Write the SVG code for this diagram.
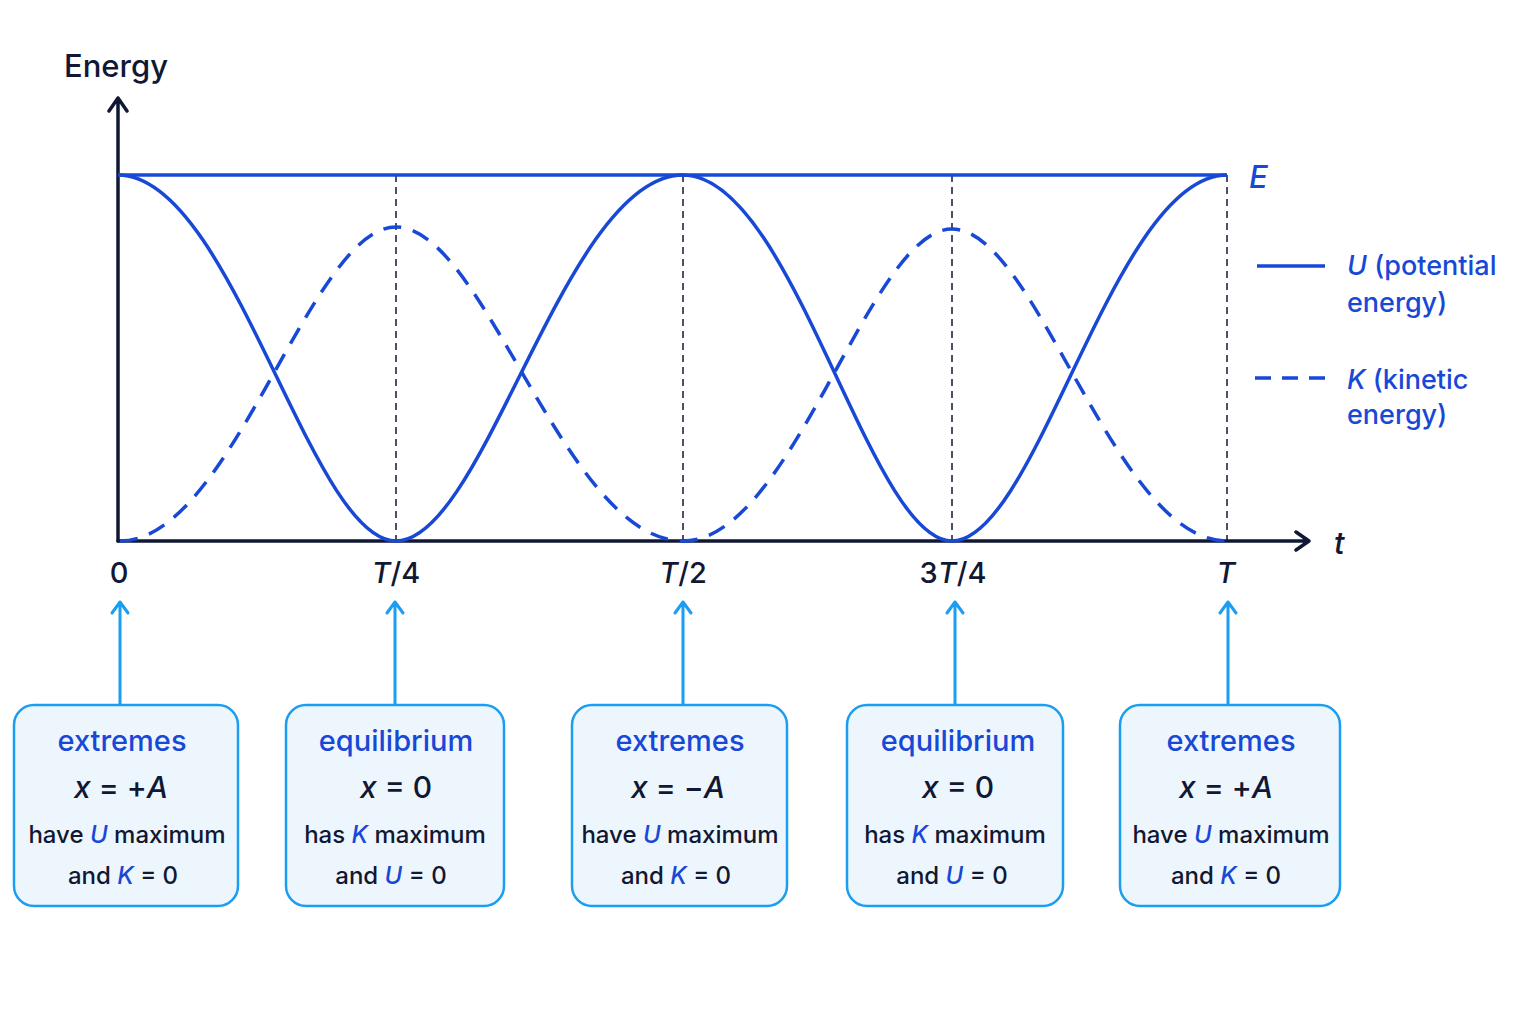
<svg xmlns="http://www.w3.org/2000/svg" width="1536" height="1024" viewBox="0 0 1536 1024">
<defs>
<style>
.ax{stroke:#111834;stroke-width:3.5;fill:none;stroke-linecap:round;stroke-linejoin:round}
.cu{stroke:#1848d6;stroke-width:3.5;fill:none}
.ck{stroke:#1848d6;stroke-width:3.5;fill:none;stroke-dasharray:18 12}
.gd{stroke:#111834;stroke-width:1.5;stroke-dasharray:7 5;fill:none}
.cn{stroke:#1a9ef2;stroke-width:3;fill:none;stroke-linecap:round;stroke-linejoin:round}
.box{fill:#eef6fd;stroke:#1a9ef2;stroke-width:2.5}
text{font-family:Inter,"Noto Sans","Liberation Sans",sans-serif;font-weight:500}
.dk{fill:#111834}
.bl{fill:#1848d6}
.it{font-style:italic}
.h{font-size:29px;fill:#1848d6;text-anchor:middle}
.eq{font-size:30px;fill:#111834;text-anchor:middle}
.ln{font-size:24px;fill:#111834;text-anchor:middle}
.tk{font-size:29px;fill:#111834;text-anchor:middle}
.lg{font-size:27px;fill:#1848d6}
</style>
</defs>
<rect width="1536" height="1024" fill="#ffffff"/>

<g id="axes">
<path class="ax" d="M118 541 V98 M109 111 L118 98 L127 111"/>
<path class="ax" d="M118 541 H1309 M1296 532 L1309 541 L1296 550"/>
<text x="64" y="77" font-size="31" class="dk">Energy</text>
<text x="1334" y="554" font-size="31" class="dk it">t</text>
<text class="tk" x="119" y="583">0</text>
<text class="tk" x="396" y="583"><tspan class="it">T</tspan>/4</text>
<text class="tk" x="683" y="583"><tspan class="it">T</tspan>/2</text>
<text class="tk" x="953" y="583">3<tspan class="it">T</tspan>/4</text>
<text class="tk it" x="1226" y="583">T</text>
</g>

<g id="guides">
<path class="gd" d="M396 175 V541 M683 175 V541 M952 175 V541 M1227 175 V541"/>
</g>

<g id="energy-line">
<path class="cu" d="M118 175 H1227"/>
<text x="1249" y="188" font-size="31" class="bl it">E</text>
</g>

<g id="curve-U">
<path class="cu" d="M118 175 C232 175 310 541 396 541 C485 541 565 175 683 175 C793 175 869 541 952 541 C1037 541 1114 175 1227 175"/>
</g>
<g id="curve-K">
<path class="ck" d="M120 541 C232 541 310 227 396 227 C485 227 565 541 683 541 C793 541 869 229 952 229 C1037 229 1114 541 1227 541"/>
</g>

<g id="legend">
<path class="cu" d="M1257 266 H1325"/>
<text class="lg" x="1347" y="275"><tspan class="it">U</tspan> (potential</text>
<text class="lg" x="1347" y="312">energy)</text>
<path class="ck" d="M1255 378 H1325" style="stroke-dasharray:16 11"/>
<text class="lg" x="1347" y="389"><tspan class="it">K</tspan> (kinetic</text>
<text class="lg" x="1347" y="424">energy)</text>
</g>

<g id="connectors">
<path class="cn" d="M120 704 V602 M112 613 L120 602 L128 613"/>
<path class="cn" d="M395 704 V602 M387 613 L395 602 L403 613"/>
<path class="cn" d="M683 704 V602 M675 613 L683 602 L691 613"/>
<path class="cn" d="M955 704 V602 M947 613 L955 602 L963 613"/>
<path class="cn" d="M1228 704 V602 M1220 613 L1228 602 L1236 613"/>
</g>

<g id="node-0">
<rect class="box" x="14" y="705" width="224" height="201" rx="20"/>
<text class="h" x="122" y="751">extremes</text>
<text class="eq" x="121" y="798"><tspan class="it">x</tspan> = +<tspan class="it">A</tspan></text>
<text class="ln" x="127" y="843">have <tspan class="bl it">U</tspan> maximum</text>
<text class="ln" x="123" y="884">and <tspan class="bl it">K</tspan> = 0</text>
</g>

<g id="node-T4">
<rect class="box" x="286" y="705" width="218" height="201" rx="20"/>
<text class="h" x="396" y="751">equilibrium</text>
<text class="eq" x="396" y="798"><tspan class="it">x</tspan> = 0</text>
<text class="ln" x="395" y="843">has <tspan class="bl it">K</tspan> maximum</text>
<text class="ln" x="391" y="884">and <tspan class="bl it">U</tspan> = 0</text>
</g>

<g id="node-T2">
<rect class="box" x="572" y="705" width="215" height="201" rx="20"/>
<text class="h" x="680" y="751">extremes</text>
<text class="eq" x="678" y="798"><tspan class="it">x</tspan> = −<tspan class="it">A</tspan></text>
<text class="ln" x="680" y="843">have <tspan class="bl it">U</tspan> maximum</text>
<text class="ln" x="676" y="884">and <tspan class="bl it">K</tspan> = 0</text>
</g>

<g id="node-3T4">
<rect class="box" x="847" y="705" width="216" height="201" rx="20"/>
<text class="h" x="958" y="751">equilibrium</text>
<text class="eq" x="958" y="798"><tspan class="it">x</tspan> = 0</text>
<text class="ln" x="955" y="843">has <tspan class="bl it">K</tspan> maximum</text>
<text class="ln" x="952" y="884">and <tspan class="bl it">U</tspan> = 0</text>
</g>

<g id="node-T">
<rect class="box" x="1120" y="705" width="220" height="201" rx="20"/>
<text class="h" x="1231" y="751">extremes</text>
<text class="eq" x="1226" y="798"><tspan class="it">x</tspan> = +<tspan class="it">A</tspan></text>
<text class="ln" x="1231" y="843">have <tspan class="bl it">U</tspan> maximum</text>
<text class="ln" x="1226" y="884">and <tspan class="bl it">K</tspan> = 0</text>
</g>
</svg>
